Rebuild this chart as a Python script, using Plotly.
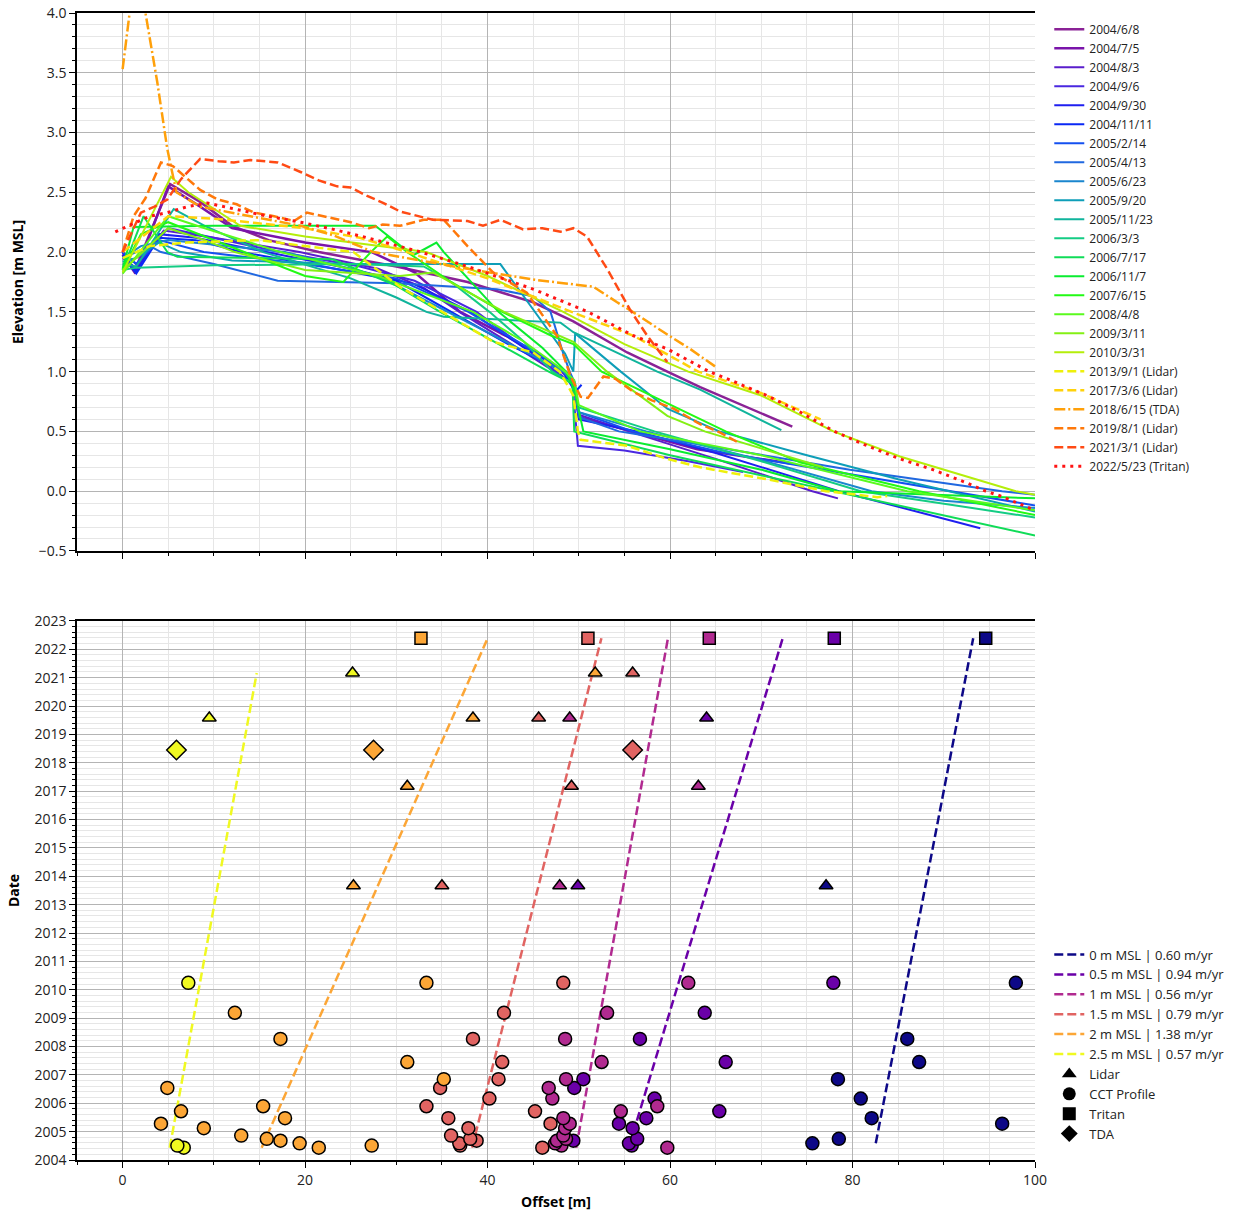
import plotly.graph_objects as go
from datetime import date

# ---------------- Upper panel: cross-shore elevation profiles ----------------
p20040608_x = [0, 1.3, 5.2, 8.5, 12, 16, 21.5, 30, 37.8, 45, 49.4, 55.3, 59.7, 63.3, 73.4]
p20040608_z = [2.0, 1.84, 2.57, 2.42, 2.22, 2.1, 2.0, 1.88, 1.75, 1.58, 1.42, 1.16, 1.0, 0.87, 0.54]
p20040705_x = [0, 1.4, 5, 8.5, 12, 20, 27.3, 32, 37, 42, 46, 48.1, 49.4, 50, 55.8, 63, 73.4]
p20040705_z = [1.98, 1.82, 2.55, 2.38, 2.2, 2.08, 2.0, 1.83, 1.5, 1.3, 1.13, 1.0, 0.92, 0.62, 0.5, 0.35, 0.23]
p20040803_x = [0, 1.5, 4.5, 10, 19.4, 28, 33, 36.9, 42, 47.4, 49.4, 50, 55.5, 65, 75.6, 78.4]
p20040803_z = [1.95, 1.86, 2.18, 2.12, 2.0, 1.86, 1.7, 1.5, 1.26, 1.0, 0.9, 0.64, 0.5, 0.27, 0.0, -0.06]
p20040906_x = [0, 1.5, 5, 10, 17.3, 26, 32, 38.8, 44, 47.6, 49.3, 49.9, 55, 62, 68]
p20040906_z = [2.0, 1.9, 2.2, 2.12, 2.0, 1.88, 1.76, 1.5, 1.2, 1.0, 0.9, 0.38, 0.34, 0.25, 0.16]
p20040930_x = [0, 1.5, 4, 8, 15.8, 25, 32, 38.1, 44, 48.6, 49.5, 50, 56.4, 65, 78.5, 94]
p20040930_z = [2.0, 1.84, 2.15, 2.12, 2.0, 1.86, 1.73, 1.5, 1.2, 1.0, 0.9, 0.6, 0.5, 0.32, 0.0, -0.31]
p20041111_x = [0, 1.5, 4, 8, 13, 22, 30, 36, 42, 48.3, 49.6, 50.3]
p20041111_z = [1.97, 1.82, 2.12, 2.1, 2.0, 1.88, 1.76, 1.5, 1.24, 1.0, 0.83, 0.89]
p20050214_x = [0, 1.5, 4, 8.9, 20, 30, 37.9, 44, 48.5, 49.5, 50, 55.9, 66, 80, 100]
p20050214_z = [2.0, 1.9, 2.1, 2.0, 1.9, 1.78, 1.5, 1.22, 1.0, 0.92, 0.66, 0.5, 0.32, 0.14, -0.12]
p20050413_x = [0, 1.5, 3, 4.2, 10, 17, 30, 41, 45, 46.9, 48.3, 49, 49.6, 50, 54.4, 63.3, 79.7, 88.8, 96.4, 100]
p20050413_z = [1.95, 2.0, 2.05, 2.0, 1.9, 1.76, 1.74, 1.69, 1.63, 1.5, 1.15, 1.0, 0.9, 0.62, 0.5, 0.39, 0.18, 0.08, 0.0, -0.03]
p20050623_x = [0, 2, 5, 10, 17.8, 28, 35.7, 42, 48.3, 49.5, 50, 57.4, 70, 82.1, 90, 100]
p20050623_z = [1.95, 2.05, 2.1, 2.06, 2.0, 1.8, 1.5, 1.25, 1.0, 0.9, 0.66, 0.5, 0.26, 0.0, -0.08, -0.14]
p20050920_x = [0, 1.5, 4, 6.4, 12, 25, 41.4, 45.2, 48.5, 49.4, 49.6, 54.6, 59.7, 65.4, 75, 85, 100]
p20050920_z = [1.92, 1.95, 2.08, 2.0, 1.93, 1.9, 1.9, 1.5, 1.15, 1.0, 1.32, 1.0, 0.69, 0.5, 0.3, 0.1, -0.17]
p20051123_x = [0, 1.5, 5.6, 9, 15.4, 25, 30, 33.3, 35.2, 48, 49.4, 58.6, 63.3, 72.2]
p20051123_z = [1.9, 1.88, 2.36, 2.22, 2.0, 1.78, 1.62, 1.5, 1.46, 1.41, 1.33, 1.0, 0.85, 0.51]
p20060303_x = [0, 1.5, 10, 25, 33, 36, 40.2, 44, 47.1, 49.4, 50, 58.3, 70, 80.9, 100]
p20060303_z = [1.85, 1.87, 1.89, 1.9, 1.88, 1.75, 1.5, 1.25, 1.0, 0.9, 0.7, 0.5, 0.25, 0.0, -0.22]
p20060717_x = [0, 2.3, 4.9, 6, 23, 30, 34.8, 42, 46.7, 49.3, 49.5, 60, 75, 100]
p20060717_z = [1.85, 2.3, 2.0, 1.96, 1.94, 1.72, 1.5, 1.2, 1.0, 0.9, 0.5, 0.3, 0.05, -0.37]
p20061107_x = [0, 1.2, 10, 27.7, 30.5, 32, 34.4, 35.2, 41.2, 46, 48.6, 49.5, 50.5, 60, 70, 78.4, 100]
p20061107_z = [1.86, 2.21, 2.22, 2.22, 2.05, 1.98, 2.08, 2.0, 1.5, 1.2, 1.0, 0.85, 0.5, 0.35, 0.18, 0.0, -0.06]
p20070615_x = [0, 2, 5, 10, 20, 24.2, 27.2, 29, 31.2, 36, 41.6, 47, 49.4, 52.5, 66.1, 74.3, 87.3, 100]
p20070615_z = [1.85, 2.15, 2.25, 2.1, 1.8, 1.75, 2.0, 2.13, 2.0, 1.75, 1.5, 1.3, 1.23, 1.0, 0.5, 0.24, 0.0, -0.2]
p20080408_x = [0, 5, 9, 17.3, 28, 38.4, 44, 48.5, 49.5, 50, 56.7, 70, 86, 100]
p20080408_z = [1.82, 2.3, 2.2, 2.0, 1.8, 1.5, 1.25, 1.0, 0.93, 0.72, 0.5, 0.3, 0.0, -0.16]
p20090311_x = [0, 1.5, 5, 9, 12.3, 20, 30.4, 34, 41.8, 49.4, 53.1, 59.7, 63.8, 76.8]
p20090311_z = [1.85, 1.95, 2.2, 2.1, 2.0, 1.85, 1.8, 1.83, 1.5, 1.25, 1.0, 0.63, 0.5, 0.2]
p20100331_x = [0, 5.3, 7.2, 12.9, 20, 33.3, 40, 48.3, 55, 62, 70, 77.9, 85.2, 97.9, 100]
p20100331_z = [1.83, 2.63, 2.5, 2.22, 2.13, 2.0, 1.8, 1.5, 1.23, 1.0, 0.8, 0.5, 0.29, 0.0, -0.03]
p20130901_x = [0, 3, 7, 15, 20, 25.3, 30.4, 35, 40.6, 45, 47.9, 49.4, 49.9, 50.2, 55.3, 59.7, 63.3, 66.9, 70.6, 77.1, 82.7, 83.8]
p20130901_z = [1.95, 2.05, 2.08, 2.1, 2.05, 2.0, 1.71, 1.5, 1.25, 1.16, 1.0, 0.8, 0.5, 0.43, 0.38, 0.27, 0.2, 0.15, 0.1, 0.0, -0.05, -0.04]
p20170306_x = [0, 2, 5, 10, 20, 26, 31.2, 40, 49.2, 56, 63.1, 70, 76.5]
p20170306_z = [2.0, 2.12, 2.3, 2.28, 2.2, 2.12, 2.0, 1.78, 1.5, 1.3, 1.0, 0.82, 0.6]
p20180615_x = [0, 1.5, 3.8, 4.9, 5.9, 8.5, 14, 19.5, 23.1, 27.5, 30.4, 37.8, 45, 51.6, 54.2, 55.9, 59.7, 62.2, 65]
p20180615_z = [3.53, 4.45, 3.42, 2.86, 2.5, 2.38, 2.3, 2.22, 2.14, 2.0, 1.96, 1.86, 1.77, 1.71, 1.58, 1.5, 1.31, 1.19, 1.04]
p20190801_x = [0, 1.2, 2.5, 4.2, 5.5, 7.1, 8.5, 10.4, 12.5, 14.4, 16.6, 18.8, 20.2, 22, 25, 27, 28.5, 30.4, 33,
               35.2, 37.8, 40.6, 44.3, 47.6, 49.1, 50.2, 51, 52.7, 54, 56, 58, 60.4, 63.3, 65.5, 67.4]
p20190801_z = [2.0, 2.3, 2.45, 2.75, 2.72, 2.61, 2.52, 2.44, 2.4, 2.33, 2.3, 2.26, 2.33, 2.3, 2.25, 2.2, 2.23, 2.22, 2.27,
               2.27, 2.05, 1.83, 1.66, 1.3, 0.96, 0.79, 0.78, 0.96, 0.94, 0.83, 0.76, 0.69, 0.56, 0.49, 0.41]
p20210301_x = [0, 2, 3.5, 4.9, 6.4, 8.5, 10.5, 12.2, 14, 17, 19.5, 21.5, 23.5, 25, 26.8, 28.6, 30.4, 32.6, 34,
               37.8, 39.5, 41.4, 43.9, 46, 48, 49.4, 50.9, 53.1, 55.6, 57.5, 59.7]
p20210301_z = [2.0, 2.33, 2.38, 2.44, 2.61, 2.78, 2.76, 2.75, 2.77, 2.75, 2.67, 2.6, 2.55, 2.54, 2.47, 2.41, 2.34, 2.3, 2.27,
               2.26, 2.22, 2.27, 2.19, 2.2, 2.17, 2.2, 2.13, 1.86, 1.52, 1.3, 1.08]
p20220523_x = [-0.8, 1.2, 3, 4.9, 7.1, 9.3, 12.2, 15.9, 19.5, 23.1, 26.8, 30.4, 32.7, 37.8, 45, 51, 56, 59.7, 64.3,
               66.9, 70.6, 74.3, 78, 81.6, 85.2, 88.8, 92.5, 94.6, 96.2, 100]
p20220523_z = [2.17, 2.24, 2.3, 2.33, 2.38, 2.41, 2.36, 2.3, 2.25, 2.19, 2.12, 2.05, 2.0, 1.88, 1.69, 1.5, 1.3, 1.19, 1.0,
               0.92, 0.8, 0.66, 0.5, 0.38, 0.27, 0.18, 0.07, 0.0, -0.04, -0.16]

profile_labels = [
    "2004/6/8", "2004/7/5", "2004/8/3", "2004/9/6", "2004/9/30", "2004/11/11",
    "2005/2/14", "2005/4/13", "2005/6/23", "2005/9/20", "2005/11/23", "2006/3/3",
    "2006/7/17", "2006/11/7", "2007/6/15", "2008/4/8", "2009/3/11", "2010/3/31",
    "2013/9/1 (Lidar)", "2017/3/6 (Lidar)", "2018/6/15 (TDA)", "2019/8/1 (Lidar)",
    "2021/3/1 (Lidar)", "2022/5/23 (Tritan)",
]
profile_colors = [
    "#8a2296", "#7a14aa", "#5a1ecc", "#4a28e0", "#1f1ff0", "#0a28f5",
    "#1450f0", "#2068e0", "#1a86ce", "#0e9eb8", "#10b49c", "#14cc84",
    "#10dc58", "#0aec30", "#22fa14", "#5afa1e", "#84f014", "#b4ee0a",
    "#eef00a", "#ffd20a", "#ffa00a", "#ff780a", "#ff4a14", "#ff1414",
]
profile_x = [p20040608_x, p20040705_x, p20040803_x, p20040906_x, p20040930_x, p20041111_x,
             p20050214_x, p20050413_x, p20050623_x, p20050920_x, p20051123_x, p20060303_x,
             p20060717_x, p20061107_x, p20070615_x, p20080408_x, p20090311_x, p20100331_x,
             p20130901_x, p20170306_x, p20180615_x, p20190801_x, p20210301_x, p20220523_x]
profile_z = [p20040608_z, p20040705_z, p20040803_z, p20040906_z, p20040930_z, p20041111_z,
             p20050214_z, p20050413_z, p20050623_z, p20050920_z, p20051123_z, p20060303_z,
             p20060717_z, p20061107_z, p20070615_z, p20080408_z, p20090311_z, p20100331_z,
             p20130901_z, p20170306_z, p20180615_z, p20190801_z, p20210301_z, p20220523_z]

# ---------------- Lower panel: contour positions through time ----------------
levels = [0.0, 0.5, 1.0, 1.5, 2.0, 2.5]
level_colors = ["#0d0887", "#6a00a8", "#b12a90", "#e16462", "#fca636", "#f0f921"]
retreat_rates = [0.60, 0.94, 0.56, 0.79, 1.38, 0.57]   # m/yr

cct_dates = ["2004-06-08", "2004-07-05", "2004-08-03", "2004-09-06", "2004-09-30", "2004-11-11",
             "2005-02-14", "2005-04-13", "2005-06-23", "2005-09-20", "2005-11-23", "2006-03-03",
             "2006-07-17", "2006-11-07", "2007-06-15", "2008-04-08", "2009-03-11", "2010-03-31"]
N = None
cct_00 = [N, N, 75.6, N, 78.5, N, N, 96.4, 82.1, N, N, 80.9, N, 78.4, 87.3, 86.0, N, 97.9]
cct_05 = [N, 55.8, 55.5, 49.4, 56.4, N, 55.9, 54.4, 57.4, 65.4, N, 58.3, 49.5, 50.5, 66.1, 56.7, 63.8, 77.9]
cct_10 = [59.7, 48.1, 47.4, 47.6, 48.6, 48.3, 48.5, 49.0, 48.3, 54.6, 58.6, 47.1, 46.7, 48.6, 52.5, 48.5, 53.1, 62.0]
cct_15 = [46.0, 37.0, 36.9, 38.8, 38.1, 36.0, 37.9, 46.9, 35.7, 45.2, 33.3, 40.2, 34.8, 41.2, 41.6, 38.4, 41.8, 48.3]
cct_20 = [21.5, 27.3, 19.4, 17.3, 15.8, 13.0, 8.9, 4.2, 17.8, 6.4, 15.4, N, 4.9, 35.2, 31.2, 17.3, 12.3, 33.3]
cct_25 = [6.7, 6.0, N, N, N, N, N, N, N, N, N, N, N, N, N, N, N, 7.2]

lidar_dates = ["2013-09-01", "2017-03-06", "2019-08-01", "2021-03-01"]
lidar_00 = [77.1, N, N, N]
lidar_05 = [49.9, N, 64.0, N]
lidar_10 = [47.9, 63.1, 49.0, N]
lidar_15 = [35.0, 49.2, 45.6, 55.9]
lidar_20 = [25.3, 31.2, 38.4, 51.8]
lidar_25 = [N, N, 9.5, 25.2]

tritan_date = "2022-05-23"
tritan_x = [94.6, 78.0, 64.3, 51.0, 32.7, N]     # per level, 0 m .. 2.5 m
tda_date = "2018-06-15"
tda_x = [N, N, N, 55.9, 27.5, 5.9]               # per level, 0 m .. 2.5 m

cct_by_level = [cct_00, cct_05, cct_10, cct_15, cct_20, cct_25]
lidar_by_level = [lidar_00, lidar_05, lidar_10, lidar_15, lidar_20, lidar_25]


def decimal_year(s):
    y, m, d = (int(v) for v in s.split("-"))
    doy = date(y, m, d).timetuple().tm_yday
    ndays = (date(y + 1, 1, 1) - date(y, 1, 1)).days
    return y + (doy - 1) / ndays


cct_t = [decimal_year(s) for s in cct_dates]
lidar_t = [decimal_year(s) for s in lidar_dates]
tritan_t = decimal_year(tritan_date)
tda_t = decimal_year(tda_date)

fig = go.Figure()

FONT = "Open Sans"

# profiles
for k, (lab, col, xs, zs) in enumerate(zip(profile_labels, profile_colors, profile_x, profile_z)):
    if "Lidar" in lab:
        line = dict(color=col, width=2.5, dash="9px,4px")
    elif "TDA" in lab:
        line = dict(color=col, width=2.5, dash="11px,3px,2px,3px")
    elif "Tritan" in lab:
        line = dict(color=col, width=3, dash="3px,5px")
    else:
        line = dict(color=col, width=2.5 if k < 2 else 2)
    fig.add_trace(go.Scatter(x=xs, y=zs, mode="lines", name=lab, line=line,
                             xaxis="x", yaxis="y", legend="legend"))


def pairs(ts, xs):
    return [(t, x) for t, x in zip(ts, xs) if x is not None]


# fitted trend lines (fixed stated rate, least-squares offset)
for i, (lev, col, rate) in enumerate(zip(levels, level_colors, retreat_rates)):
    pts = pairs(cct_t, cct_by_level[i]) + pairs(lidar_t, lidar_by_level[i])
    if tritan_x[i] is not None:
        pts.append((tritan_t, tritan_x[i]))
    if tda_x[i] is not None:
        pts.append((tda_t, tda_x[i]))
    a = sum(x - rate * t for t, x in pts) / len(pts)
    t0 = min(t for t, _ in pts)
    t1 = max(t for t, _ in pts)
    lev_txt = ("%g" % lev)
    fig.add_trace(go.Scatter(
        x=[a + rate * t0, a + rate * t1], y=[t0, t1], mode="lines",
        line=dict(color=col, width=2.5, dash="9px,4px"),
        name=f"{lev_txt} m MSL | {rate:.2f} m/yr",
        xaxis="x2", yaxis="y2", legend="legend2"))

marker_line = dict(color="black", width=1.5)
for i, col in enumerate(level_colors):
    p = pairs(cct_t, cct_by_level[i])
    fig.add_trace(go.Scatter(x=[x for _, x in p], y=[t for t, _ in p], mode="markers",
                             marker=dict(symbol="circle", size=13, color=col, line=marker_line),
                             showlegend=False, xaxis="x2", yaxis="y2"))
    p = pairs(lidar_t, lidar_by_level[i])
    fig.add_trace(go.Scatter(x=[x for _, x in p], y=[t for t, _ in p], mode="markers",
                             marker=dict(symbol="triangle-up", size=12, color=col, line=marker_line),
                             showlegend=False, xaxis="x2", yaxis="y2"))
    if tritan_x[i] is not None:
        fig.add_trace(go.Scatter(x=[tritan_x[i]], y=[tritan_t], mode="markers",
                                 marker=dict(symbol="square", size=12, color=col, line=marker_line),
                                 showlegend=False, xaxis="x2", yaxis="y2"))
    if tda_x[i] is not None:
        fig.add_trace(go.Scatter(x=[tda_x[i]], y=[tda_t], mode="markers",
                                 marker=dict(symbol="diamond", size=15, color=col, line=marker_line),
                                 showlegend=False, xaxis="x2", yaxis="y2"))

# source legend keys
for name, sym in [("Lidar", "triangle-up"), ("CCT Profile", "circle"),
                  ("Tritan", "square"), ("TDA", "diamond")]:
    fig.add_trace(go.Scatter(x=[None], y=[None], mode="markers", name=name,
                             marker=dict(symbol=sym, size=13, color="black"),
                             xaxis="x2", yaxis="y2", legend="legend2"))

MAJ = "#b4b4b4"
MIN = "#e6e6e6"
tickfont = dict(family=FONT, size=14, color="#222")
titlefont = dict(family=FONT, size=14, color="black", weight="bold")

xcommon = dict(range=[-5, 100], tick0=0, dtick=20, showgrid=True, gridcolor=MAJ, gridwidth=1.3,
               zeroline=False, showline=True, linecolor="black", linewidth=1.5, mirror=True,
               ticks="outside", ticklen=6, tickcolor="black", tickfont=tickfont, automargin=False,
               minor=dict(dtick=5, tick0=0, showgrid=True, gridcolor=MIN, gridwidth=1,
                          ticks="outside", ticklen=3, tickcolor="black"))

fig.update_layout(
    width=1240, height=1212,
    margin=dict(l=77, r=205, t=13, b=52, autoexpand=False),
    plot_bgcolor="white", paper_bgcolor="white",
    font=dict(family=FONT, color="#222"),
    xaxis=dict(xcommon, domain=[0, 1], anchor="y", showticklabels=False, matches="x2"),
    yaxis=dict(domain=[0.531, 1.0], anchor="x", range=[-0.5, 4.0], dtick=0.5, tick0=0,
               tickformat=".1f", showgrid=True, gridcolor=MAJ, gridwidth=1.3, zeroline=False,
               showline=True, linecolor="black", linewidth=1.5, ticks="outside", ticklen=6,
               tickcolor="black", tickfont=tickfont, automargin=False,
               minor=dict(dtick=0.1, tick0=0, showgrid=True, gridcolor=MIN, gridwidth=1,
                          ticks="outside", ticklen=3, tickcolor="black"),
               title=dict(text="Elevation [m MSL]", font=titlefont, standoff=12)),
    xaxis2=dict(xcommon, domain=[0, 1], anchor="y2",
                title=dict(text="Offset [m]", font=titlefont, standoff=10)),
    yaxis2=dict(domain=[0, 0.47], anchor="x2", range=[2004, 2023], dtick=1, tick0=2004,
                tickformat="d", showgrid=True, gridcolor=MAJ, gridwidth=1.3, zeroline=False,
                showline=True, linecolor="black", linewidth=1.5, ticks="outside", ticklen=6,
                tickcolor="black", tickfont=tickfont, automargin=False,
                minor=dict(dtick=0.2, tick0=2004, showgrid=True, gridcolor=MIN, gridwidth=1,
                           ticks="outside", ticklen=3, tickcolor="black"),
                title=dict(text="Date", font=titlefont, standoff=12)),
    legend=dict(x=1.0149, y=0.9985, xanchor="left", yanchor="top", bgcolor="rgba(0,0,0,0)",
                font=dict(family=FONT, size=12, color="#222"), tracegroupgap=0, itemwidth=30),
    legend2=dict(x=1.0149, y=0.1922, xanchor="left", yanchor="top", bgcolor="rgba(0,0,0,0)",
                 font=dict(family=FONT, size=13, color="#222"), tracegroupgap=0, itemwidth=30),
)

fig.write_html("out.html")
